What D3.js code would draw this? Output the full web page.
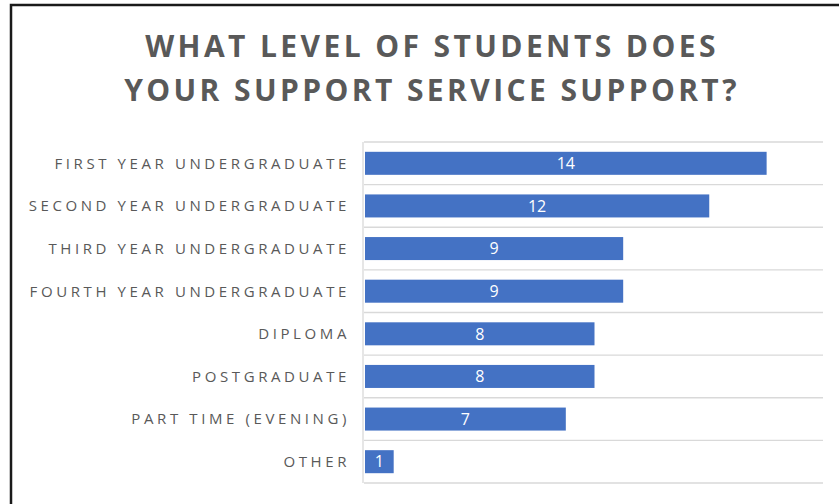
<!DOCTYPE html>
<html>
<head>
<meta charset="utf-8">
<script src="https://cdn.jsdelivr.net/npm/d3@7"></script>
<style>
  body { margin: 0; background: #fff; }
  svg { display: block; font-family: "Open Sans", sans-serif; }
</style>
</head>
<body>
<svg id="chart" width="839" height="504"></svg>
<script>
const categories = [
  'FIRST YEAR UNDERGRADUATE',
  'SECOND YEAR UNDERGRADUATE',
  'THIRD YEAR UNDERGRADUATE',
  'FOURTH YEAR UNDERGRADUATE',
  'DIPLOMA',
  'POSTGRADUATE',
  'PART TIME (EVENING)',
  'OTHER'
]
const values = [14, 12, 9, 9, 8, 8, 7, 1]
const titleLines = ['WHAT LEVEL OF STUDENTS DOES', 'YOUR SUPPORT SERVICE SUPPORT?']

const width = 839
const height = 504
const margin = { top: 142, right: 16, bottom: 21, left: 364 }

const svg = d3.select('#chart')

// frame (only left and top edges show in the crop)
svg.append('path')
  .attr('d', `M11,${height} V5 H${width}`)
  .attr('fill', 'none')
  .attr('stroke', '#1a1a1a')
  .attr('stroke-width', 2.5)

svg.append('g')
  .selectAll('text')
  .data(titleLines)
  .enter()
  .append('text')
  .attr('x', 432)
  .attr('y', (d, i) => 57 + i * 44)
  .attr('text-anchor', 'middle')
  .attr('font-size', 30)
  .attr('font-weight', 700)
  .attr('letter-spacing', 3.4)
  .attr('fill', '#595959')
  .text(d => d)

const x = d3.scaleLinear()
  .domain([0, 16])
  .range([margin.left, width - margin.right])

const y = d3.scaleBand()
  .domain(categories)
  .range([margin.top, height - margin.bottom])
  .paddingInner(0.46)
  .paddingOuter(0.23)

// category boundary lines
const step = y.step()
const bounds = d3.range(categories.length + 1).map(i => margin.top + i * step)

svg.append('g')
  .selectAll('line')
  .data(bounds)
  .enter()
  .append('line')
  .attr('x1', margin.left)
  .attr('x2', width - margin.right)
  .attr('y1', d => d)
  .attr('y2', d => d)
  .attr('stroke', '#d9d9d9')
  .attr('stroke-width', 1.3)

svg.append('line')
  .attr('x1', margin.left - 1)
  .attr('x2', margin.left - 1)
  .attr('y1', margin.top)
  .attr('y2', height - margin.bottom)
  .attr('stroke', '#d9d9d9')
  .attr('stroke-width', 1.3)

const bars = svg.append('g')
  .selectAll('g')
  .data(categories)
  .enter()
  .append('g')

bars.append('rect')
  .attr('x', x(0) + 1)
  .attr('y', d => y(d))
  .attr('width', (d, i) => x(values[i]) - x(0))
  .attr('height', y.bandwidth())
  .attr('fill', '#4472C4')

bars.append('text')
  .attr('x', (d, i) => (x(0) + x(values[i])) / 2 + 1)
  .attr('y', d => y(d) + y.bandwidth() / 2)
  .attr('dy', '0.36em')
  .attr('text-anchor', 'middle')
  .attr('font-size', 16)
  .attr('fill', '#ffffff')
  .text((d, i) => values[i])

svg.append('g')
  .selectAll('text')
  .data(categories)
  .enter()
  .append('text')
  .attr('x', 350)
  .attr('y', d => y(d) + y.bandwidth() / 2)
  .attr('dy', '0.36em')
  .attr('text-anchor', 'end')
  .attr('font-size', 15)
  .attr('letter-spacing', 3.6)
  .attr('fill', '#595959')
  .text(d => d)
</script>
</body>
</html>
